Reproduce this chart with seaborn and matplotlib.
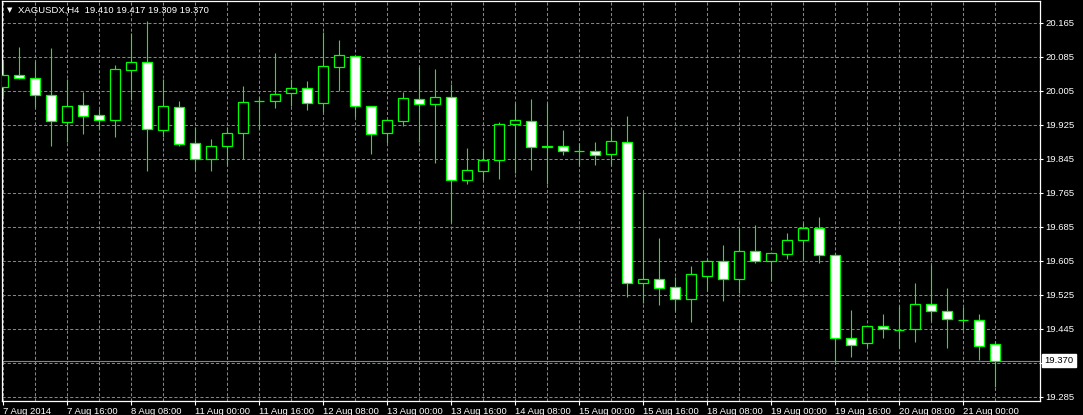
import numpy as np
import matplotlib
matplotlib.use("Agg")
import matplotlib.pyplot as plt
import seaborn as sns

# XAGUSDX H4 candles, 7 Aug 2014 00:00 .. 21 Aug 2014 08:00
symbol = "XAGUSDX,H4"
opens = [20.013, 20.041, 20.036, 19.996, 19.931, 19.971, 19.947, 19.935, 20.053, 20.072,
         19.912, 19.966, 19.881, 19.845, 19.876, 19.905, 19.980, 19.980, 19.999, 20.011,
         19.975, 20.060, 20.086, 19.968, 19.905, 19.933, 19.985, 19.973, 19.989, 19.796,
         19.815, 19.841, 19.926, 19.933, 19.872, 19.874, 19.862, 19.862, 19.855, 19.884,
         19.552, 19.561, 19.542, 19.516, 19.568, 19.604, 19.561, 19.627, 19.604, 19.620,
         19.653, 19.681, 19.618, 19.422, 19.411, 19.451, 19.443, 19.445, 19.503, 19.486,
         19.465, 19.465, 19.410]
highs = [20.073, 20.108, 20.075, 20.105, 20.032, 20.002, 19.962, 20.066, 20.140, 20.168,
         20.032, 19.981, 19.920, 19.891, 19.920, 20.016, 19.991, 20.094, 20.032, 20.028,
         20.143, 20.124, 20.086, 19.970, 19.937, 20.002, 20.060, 20.056, 20.021, 19.870,
         19.865, 19.931, 19.976, 19.986, 19.976, 19.913, 19.881, 19.884, 19.920, 19.946,
         19.764, 19.658, 19.566, 19.593, 19.608, 19.642, 19.681, 19.688, 19.622, 19.670,
         19.693, 19.707, 19.622, 19.489, 19.451, 19.480, 19.498, 19.553, 19.595, 19.541,
         19.495, 19.480, 19.417]
lows = [19.993, 20.033, 19.967, 19.876, 19.885, 19.902, 19.914, 19.895, 19.982, 19.817,
        19.895, 19.876, 19.815, 19.815, 19.829, 19.844, 19.914, 19.965, 19.970, 19.960,
        19.956, 20.004, 19.942, 19.855, 19.881, 19.922, 19.885, 19.836, 19.697, 19.786,
        19.796, 19.798, 19.812, 19.819, 19.786, 19.853, 19.829, 19.829, 19.829, 19.519,
        19.505, 19.500, 19.486, 19.460, 19.533, 19.511, 19.530, 19.599, 19.558, 19.610,
        19.604, 19.600, 19.364, 19.379, 19.401, 19.424, 19.400, 19.414, 19.462, 19.400,
        19.442, 19.372, 19.309]
closes = [20.041, 20.036, 19.996, 19.933, 19.970, 19.945, 19.935, 20.055, 20.072, 19.914,
          19.968, 19.879, 19.845, 19.876, 19.905, 19.978, 19.981, 19.998, 20.011, 19.975,
          20.062, 20.088, 19.970, 19.902, 19.935, 19.987, 19.973, 19.989, 19.796, 19.818,
          19.841, 19.926, 19.935, 19.872, 19.876, 19.862, 19.862, 19.853, 19.886, 19.552,
          19.561, 19.540, 19.514, 19.573, 19.604, 19.561, 19.627, 19.604, 19.622, 19.653,
          19.681, 19.618, 19.422, 19.407, 19.451, 19.444, 19.443, 19.503, 19.486, 19.467,
          19.465, 19.404, 19.370]

time_labels = ["7 Aug 2014", "7 Aug 16:00", "8 Aug 08:00", "11 Aug 00:00", "11 Aug 16:00",
               "12 Aug 08:00", "13 Aug 00:00", "13 Aug 16:00", "14 Aug 08:00", "15 Aug 00:00",
               "15 Aug 16:00", "18 Aug 08:00", "19 Aug 00:00", "19 Aug 16:00", "20 Aug 08:00",
               "21 Aug 00:00"]
price_ticks = [20.165, 20.085, 20.005, 19.925, 19.845, 19.765, 19.685, 19.605,
               19.525, 19.445, 19.365, 19.285]
last_price = closes[-1]

GREEN = "#00ff00"
GRID = "#778899"
FS = 6.8

sns.set_theme(style="dark", rc={"axes.facecolor": "black", "figure.facecolor": "black",
                                "axes.edgecolor": "white", "text.color": "white"})
plt.rcParams['font.family'] = ['Liberation Sans', 'DejaVu Sans']

fig = plt.figure(figsize=(10.83, 4.15), dpi=100)
ax = fig.add_axes([2 / 1083, 14 / 415, 1037.5 / 1083, 400 / 415])

o = np.array(opens)
h = np.array(highs)
l = np.array(lows)
c = np.array(closes)
x = np.arange(len(o))
bull = c >= o

# wicks first, bodies on top
ax.vlines(x, l, h, color=GREEN, lw=0.8, zorder=3)
ax.bar(x, c - o, bottom=o, width=0.62, color=np.where(bull, "black", "white"),
       edgecolor=GREEN, linewidth=0.9, zorder=4)

# current price line
ax.axhline(last_price, color=GRID, lw=0.8, zorder=2)

ax.set_xlim(-0.08, 64.76)
ax.set_ylim(19.2749, 20.216)

# x axis
ax.set_xticks(x[::4])
ax.set_xticklabels(time_labels)
for lbl in ax.get_xticklabels():
    lbl.set_ha("left")
ax.set_xticks(x[::2], minor=True)
ax.tick_params(axis="x", which="major", bottom=True, length=3, width=0.8, color="white",
               labelcolor="white", labelsize=FS, pad=1.2)
ax.tick_params(axis="x", which="minor", bottom=True, length=0)

# y axis on the right
ax.yaxis.tick_right()
ax.set_yticks(price_ticks)
ax.set_yticklabels(["" if abs(v - 19.365) < 1e-6 else f"{v:.3f}" for v in price_ticks])
ax.tick_params(axis="y", which="major", right=True, left=False, length=2.2, width=0.8,
               color="white", labelcolor="white", labelsize=FS, pad=2.2)

ax.grid(True, which="both", color=GRID, linestyle=(0, (3, 2)), linewidth=0.75)
ax.set_axisbelow(True)

for s in ax.spines.values():
    s.set_color("white")
    s.set_linewidth(0.9)

# price tag
ax.annotate(f"{last_price:.3f}", xy=(1, last_price), xycoords=("axes fraction", "data"),
            xytext=(5, 0), textcoords="offset pixels", ha="left", va="center",
            fontsize=FS, color="black",
            bbox=dict(boxstyle="square,pad=0.25", fc="white", ec="white"))

# header
ax.annotate("\u25bc", xy=(0, 1), xycoords="axes fraction", xytext=(7.3, -8.7),
            textcoords="offset pixels", ha="center", va="center", fontsize=5,
            color="white", family="DejaVu Sans")
ax.annotate(f"{symbol}  {opens[-1]:.3f} {highs[-1]:.3f} {lows[-1]:.3f} {closes[-1]:.3f}",
            xy=(0, 1), xycoords="axes fraction", xytext=(15.7, -11.7),
            textcoords="offset pixels", ha="left", va="baseline", fontsize=FS,
            color="white")

fig.savefig("out.png", dpi=100, facecolor="black")
